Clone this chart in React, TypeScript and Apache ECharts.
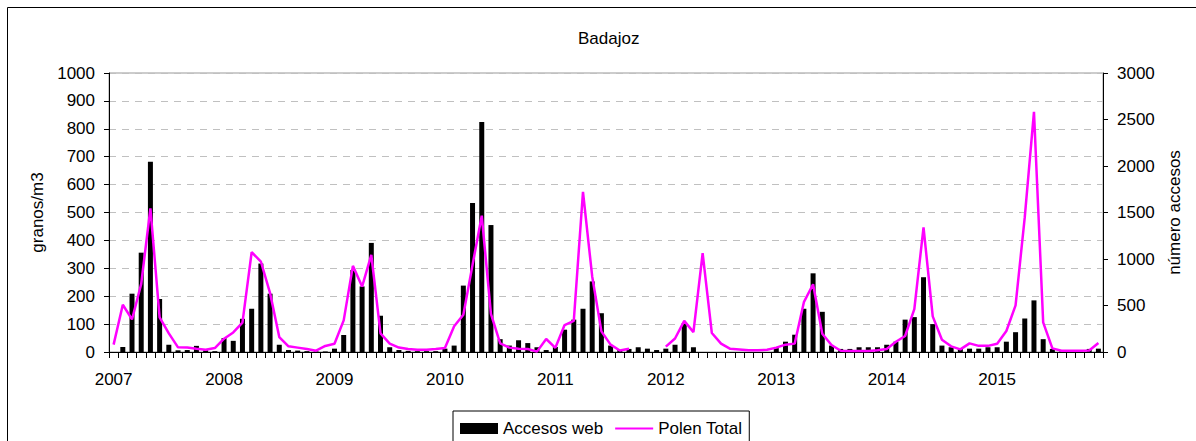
import React, { useEffect, useRef } from 'react';
import * as echarts from 'echarts';

const years = ['2007', '2008', '2009', '2010', '2011', '2012', '2013', '2014', '2015'];
const months = ['01', '02', '03', '04', '05', '06', '07', '08', '09', '10', '11', '12'];
const categories = years.flatMap((y) => months.map((m) => `${y}-${m}`));

// Accesos web (read on left axis, 0-1000)
const acc2007 = [0, 18, 209, 356, 682, 190, 26, 6, 7, 22, 6, 3];
const acc2008 = [50, 40, 119, 155, 317, 209, 26, 7, 5, 3, 2, 2];
const acc2009 = [12, 61, 294, 235, 391, 130, 17, 7, 4, 3, 3, 3];
const acc2010 = [12, 23, 238, 534, 824, 455, 46, 23, 42, 32, 17, 7];
const acc2011 = [18, 80, 116, 155, 253, 139, 23, 7, 11, 17, 12, 7];
const acc2012 = [12, 26, 104, 17, 0, 0, 0, 0, 0, 0, 0, 0];
const acc2013 = [14, 37, 62, 155, 282, 144, 23, 11, 11, 17, 17, 17];
const acc2014 = [26, 37, 116, 125, 268, 100, 23, 17, 12, 12, 12, 17];
const acc2015 = [17, 37, 71, 120, 185, 46, 11, 2, 2, 2, 11, 12];

// Polen Total (read on right axis, 0-3000)
const pol2007 = [79, 508, 350, 733, 1545, 372, 200, 50, 48, 36, 25, 42];
const pol2008 = [143, 210, 315, 1073, 973, 633, 161, 61, 47, 32, 14, 65];
const pol2009 = [89, 340, 926, 704, 1044, 200, 90, 48, 32, 25, 25, 32];
const pol2010 = [43, 276, 400, 937, 1466, 411, 92, 47, 34, 32, 4, 140];
const pol2011 = [45, 290, 335, 1723, 812, 222, 79, 16, 34, null, null, null];
const pol2012 = [58, 145, 335, 214, 1062, 204, 90, 34, 28, 18, 18, 25];
const pol2013 = [47, 79, 90, 536, 729, 197, 75, 14, 12, 10, 10, 18];
const pol2014 = [33, 110, 172, 461, 1341, 383, 132, 61, 28, 93, 66, 66];
const pol2015 = [88, 226, 501, 1450, 2582, 318, 39, 14, 14, 14, 16, 97];

const accesosWeb = [acc2007, acc2008, acc2009, acc2010, acc2011, acc2012, acc2013, acc2014, acc2015].flat();
const polenTotal = [pol2007, pol2008, pol2009, pol2010, pol2011, pol2012, pol2013, pol2014, pol2015].flat();

const FONT = "'Liberation Sans', Arial, sans-serif";

export default function App() {
  const ref = useRef<HTMLDivElement>(null);
  useEffect(() => {
    if (!ref.current) return;
    const chart = echarts.init(ref.current, null, { renderer: 'svg' });
    chart.setOption({
      animation: false,
      backgroundColor: '#fff',
      textStyle: { fontFamily: FONT },
      title: {
        text: 'Badajoz',
        left: 573,
        top: 25,
        textStyle: { fontFamily: FONT, fontSize: 17, fontWeight: 'normal', color: '#000' },
      },
      graphic: [
        {
          type: 'rect',
          shape: { x: 7.5, y: 7.5, width: 1300, height: 600 },
          style: { fill: 'none', stroke: '#000', lineWidth: 1 },
          silent: true,
        },
      ],
      legend: {
        left: 453,
        top: 411,
        padding: [9, 7, 12, 7],
        borderColor: '#000',
        borderWidth: 1,
        itemWidth: 38,
        itemHeight: 11,
        itemGap: 12,
        textStyle: { fontFamily: FONT, fontSize: 17, color: '#000' },
        data: [
          { name: 'Accesos web', icon: 'rect' },
          { name: 'Polen Total', icon: 'path://M0 0M0 11M0 4.5H40V6.5H0Z' },
        ],
      },
      grid: {
        left: 109,
        right: 93,
        top: 73,
        height: 279,
        show: true,
        borderColor: '#999',
        borderWidth: 1,
        backgroundColor: 'transparent',
      },
      xAxis: {
        type: 'category',
        data: categories,
        boundaryGap: true,
        axisLine: { lineStyle: { color: '#000', width: 1 } },
        axisTick: { show: true, interval: 0, length: 6, lineStyle: { color: '#000' } },
        axisLabel: {
          interval: 11,
          margin: 19,
          fontSize: 17,
          color: '#000',
          fontFamily: FONT,
          formatter: (v: string) => v.split('-')[0],
        },
        splitLine: { show: false },
      },
      yAxis: [
        {
          type: 'value',
          min: 0,
          max: 1000,
          interval: 100,
          name: 'granos/m3',
          nameLocation: 'middle',
          nameGap: 62,
          nameRotate: 90,
          nameTextStyle: { fontFamily: FONT, fontSize: 17, color: '#000' },
          axisLine: { show: true, lineStyle: { color: '#000' } },
          axisTick: { show: true, length: 5, lineStyle: { color: '#000' } },
          axisLabel: {
            margin: 14,
            fontSize: 17,
            color: '#000',
            fontFamily: FONT,
            formatter: (v: number) => String(v),
          },
          splitLine: { show: true, lineStyle: { color: '#c0c0c0', type: [7, 6], width: 1 } },
        },
        {
          type: 'value',
          min: 0,
          max: 3000,
          interval: 500,
          position: 'right',
          name: 'número accesos',
          nameLocation: 'middle',
          nameGap: 62,
          nameRotate: 90,
          nameTextStyle: { fontFamily: FONT, fontSize: 17, color: '#000' },
          axisLine: { show: true, lineStyle: { color: '#000' } },
          axisTick: { show: true, length: 5, lineStyle: { color: '#000' } },
          axisLabel: {
            margin: 14,
            fontSize: 17,
            color: '#000',
            fontFamily: FONT,
            formatter: (v: number) => String(v),
          },
          splitLine: { show: false },
        },
      ],
      series: [
        {
          name: 'Accesos web',
          type: 'bar',
          yAxisIndex: 0,
          data: accesosWeb,
          barWidth: 5,
          itemStyle: { color: '#000' },
        },
        {
          name: 'Polen Total',
          type: 'line',
          yAxisIndex: 1,
          data: polenTotal,
          symbol: 'none',
          connectNulls: false,
          lineStyle: { color: '#ff00ff', width: 2.5 },
          itemStyle: { color: '#ff00ff' },
        },
      ],
    });
    return () => chart.dispose();
  }, []);
  return (
    <div
      ref={ref}
      style={{ position: 'absolute', left: 0, top: 0, width: 1196, height: 441 }}
    />
  );
}
